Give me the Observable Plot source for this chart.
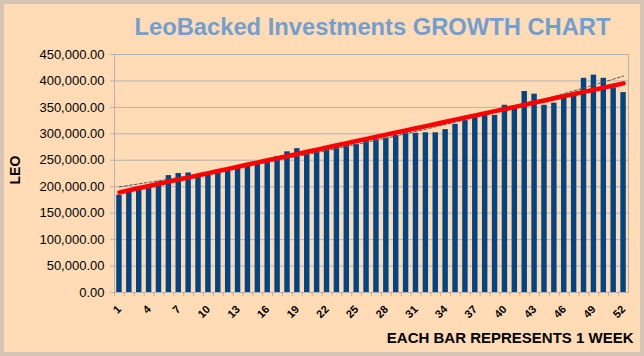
<!DOCTYPE html>
<html><head><meta charset="utf-8">
<script src="https://cdn.jsdelivr.net/npm/d3@7"></script>
<script src="https://cdn.jsdelivr.net/npm/@observablehq/plot@0.6"></script>
<style>
html,body{margin:0;padding:0;background:#ffdbb6;}
#wrap{width:644px;height:356px;}
#wrap svg{display:block;outline:4px solid #d6c4b5;outline-offset:-4px;}
</style></head><body><div id="wrap"></div>
<script>
const title = "LeoBacked Investments GROWTH CHART";
const yLabel = "LEO";
const xLabel = "EACH BAR REPRESENTS 1 WEEK";
const weeks = [1,2,3,4,5,6,7,8,9,10,11,12,13,14,15,16,17,18,19,20,21,22,23,24,25,26,27,28,29,30,31,32,33,34,35,36,37,38,39,40,41,42,43,44,45,46,47,48,49,50,51,52];
const leo = [184000,193000,198000,202000,209000,221000,225000,226000,223000,226000,
             230000,234000,238000,242000,244000,248000,257000,266000,272000,266000,
             269000,273000,276000,278000,280000,287000,289000,292000,297000,302000,
             301000,302000,302000,308000,318000,325000,332000,337000,335000,354000,
             351000,380000,375000,354000,358000,368000,373000,405000,411000,405000,
             387000,378000];
const xTickLabels = [1,4,7,10,13,16,19,22,25,28,31,34,37,40,43,46,49,52];
const yTicks = [0,50000,100000,150000,200000,250000,300000,350000,400000,450000];

const data = weeks.map((w,i)=>({week:w, leo:leo[i]}));

// trend lines fitted from the data (linear and exponential)
const mx = d3.mean(weeks);
const sxx = d3.sum(weeks, w=>(w-mx)**2);
const my = d3.mean(leo);
const slope = d3.sum(weeks.map((w,i)=>(w-mx)*(leo[i]-my)))/sxx;
const linFit = weeks.map(w=>({week:w, v: my + slope*(w-mx)}));
const ly = leo.map(Math.log);
const mly = d3.mean(ly);
const lslope = d3.sum(weeks.map((w,i)=>(w-mx)*(ly[i]-mly)))/sxx;
const expFit = weeks.map(w=>({week:w, v: Math.exp(mly + lslope*(w-mx))}));

const font = "'Liberation Sans', Arial, sans-serif";
const chart = Plot.plot({
  width:644, height:356,
  marginLeft:114, marginRight:16, marginTop:54, marginBottom:64,
  style:{background:"#ffdbb6", fontFamily:font, color:"#000", overflow:"visible"},
  x:{type:"band", domain:weeks, paddingInner:0.45, paddingOuter:0.225},
  y:{domain:[0,450000]},
  marks:[
    Plot.gridY(yTicks,{stroke:"#b3b3b3", strokeOpacity:1}),
    Plot.frame({stroke:"#b3b3b3"}),
    Plot.barY(data,{x:"week", y:"leo", fill:"#004586"}),
    Plot.line(expFit,{x:"week", y:"v", stroke:"#5a5a5a", strokeWidth:1, strokeDasharray:"3,2"}),
    Plot.line(linFit,{x:"week", y:"v", stroke:"#ff0000", strokeWidth:4.5}),
    Plot.axisY(yTicks,{tickFormat:d=>d3.format(",.2f")(d), tickSize:4, tickPadding:6, fontSize:13, stroke:"#b3b3b3", fill:"#000", label:null}),
    Plot.axisX(weeks,{tickFormat:()=>"", tickSize:4, dx:-4.94, stroke:"#b3b3b3", label:null}),
    Plot.axisX(xTickLabels,{tickSize:0, tickPadding:15, tickRotate:-45, fontSize:11, fontWeight:"bold", fill:"#000", label:null}),
    Plot.text([title],{frameAnchor:"top-left", textAnchor:"start", lineAnchor:"middle", dx:20, dy:-27, fontSize:23.7, fontWeight:"bold", fill:"#729fcf", className:"ttl"}),
    Plot.text([yLabel],{frameAnchor:"left", dx:-99, dy:11, rotate:-90, fontSize:14, fontWeight:"bold", fill:"#000"}),
    Plot.text([xLabel],{frameAnchor:"bottom-right", textAnchor:"end", dx:5, dy:50, fontSize:15, fontWeight:"bold", fill:"#000"})
  ]
});
document.getElementById("wrap").appendChild(chart);
const t = chart.querySelector(".ttl text");
if (t) { t.setAttribute("textLength","476"); t.setAttribute("lengthAdjust","spacingAndGlyphs"); }
</script></body></html>
